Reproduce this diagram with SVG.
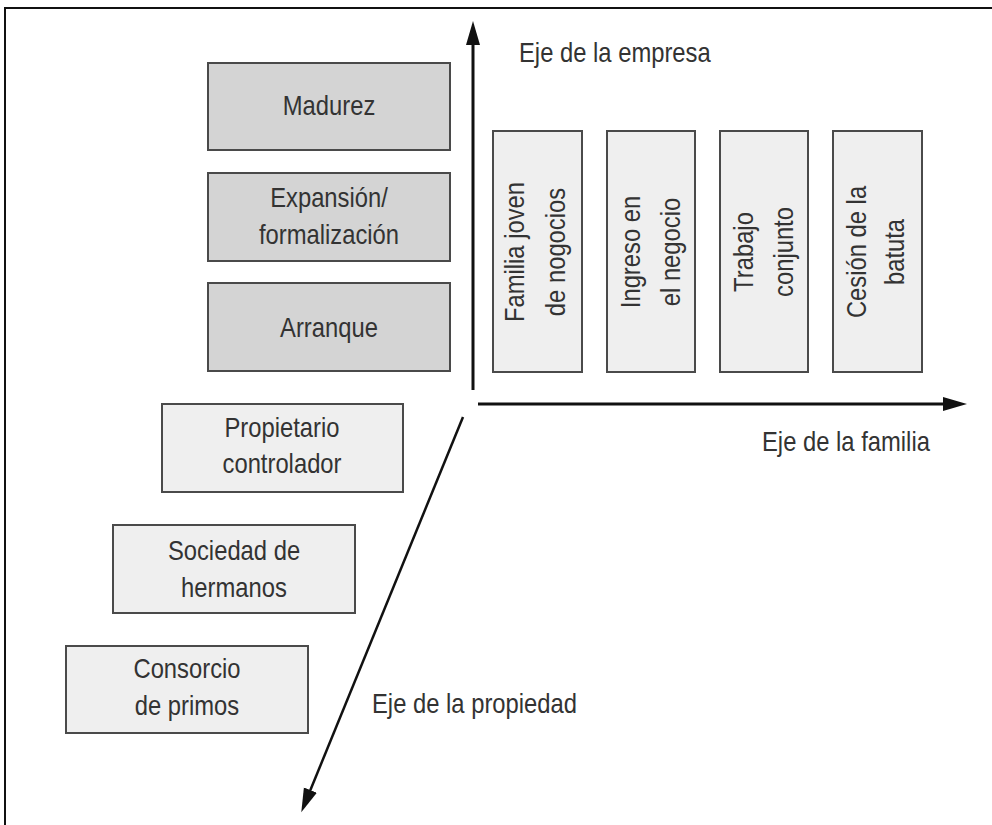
<svg xmlns="http://www.w3.org/2000/svg" width="992" height="825" viewBox="0 0 992 825">
<style>
.t{font-family:"Liberation Sans",Arial,sans-serif;font-size:28px;fill:#333;}
.c{text-anchor:middle;}
.dk{fill:#d4d4d4;stroke:#4a4a4a;stroke-width:2;}
.lt{fill:#efefef;stroke:#4a4a4a;stroke-width:2;}
.ax{stroke:#111;fill:none;}
</style>
<defs>
<marker id="ah" markerUnits="userSpaceOnUse" markerWidth="26" markerHeight="16" refX="1" refY="7" orient="auto" viewBox="0 0 26 16">
<path d="M0,0 L24,7 L0,14 Z" fill="#111"/>
</marker>
</defs>
<rect width="992" height="825" fill="#fff"/>
<path d="M5,825 L5,8 L992,8" fill="none" stroke="#111" stroke-width="2"/>

<g id="connectors">
<line class="ax" x1="473" y1="390" x2="473" y2="44" stroke-width="3" marker-end="url(#ah)"/>
<line class="ax" x1="478" y1="404" x2="944" y2="404" stroke-width="3" marker-end="url(#ah)"/>
<line class="ax" x1="463" y1="417" x2="310" y2="791" stroke-width="2.5" marker-end="url(#ah)"/>
</g>

<g id="labels">
<text class="t" transform="translate(519,62) scale(0.85,1)">Eje de la empresa</text>
<text class="t" transform="translate(762,451) scale(0.85,1)">Eje de la familia</text>
<text class="t" transform="translate(372,713) scale(0.85,1)">Eje de la propiedad</text>
</g>

<g id="madurez">
<rect class="dk" x="208" y="63" width="242" height="87"/>
<text class="t c" transform="translate(329,115) scale(0.85,1)">Madurez</text>
</g>
<g id="expansion">
<rect class="dk" x="208" y="173" width="242" height="88"/>
<text class="t c" transform="translate(329,207) scale(0.85,1)">Expansión/</text>
<text class="t c" transform="translate(329,244) scale(0.85,1)">formalización</text>
</g>
<g id="arranque">
<rect class="dk" x="208" y="283" width="242" height="88"/>
<text class="t c" transform="translate(329,337) scale(0.85,1)">Arranque</text>
</g>

<g id="propietario">
<rect class="lt" x="162" y="404" width="241" height="88"/>
<text class="t c" transform="translate(282,437) scale(0.85,1)">Propietario</text>
<text class="t c" transform="translate(282,473) scale(0.85,1)">controlador</text>
</g>
<g id="sociedad">
<rect class="lt" x="113" y="525" width="242" height="88"/>
<text class="t c" transform="translate(234,560) scale(0.85,1)">Sociedad de</text>
<text class="t c" transform="translate(234,597) scale(0.85,1)">hermanos</text>
</g>
<g id="consorcio">
<rect class="lt" x="66" y="646" width="242" height="87"/>
<text class="t c" transform="translate(187,678) scale(0.85,1)">Consorcio</text>
<text class="t c" transform="translate(187,715) scale(0.85,1)">de primos</text>
</g>

<g id="familia-joven">
<rect class="lt" x="493" y="131" width="89" height="241"/>
<text class="t c" transform="translate(524,252) rotate(-90) scale(0.85,1)">Familia joven</text>
<text class="t c" transform="translate(565,252) rotate(-90) scale(0.85,1)">de nogocios</text>
</g>
<g id="ingreso">
<rect class="lt" x="607" y="131" width="88" height="241"/>
<text class="t c" transform="translate(640,252) rotate(-90) scale(0.85,1)">Ingreso en</text>
<text class="t c" transform="translate(680,252) rotate(-90) scale(0.85,1)">el negocio</text>
</g>
<g id="trabajo">
<rect class="lt" x="720" y="131" width="88" height="241"/>
<text class="t c" transform="translate(753,252) rotate(-90) scale(0.85,1)">Trabajo</text>
<text class="t c" transform="translate(793,252) rotate(-90) scale(0.85,1)">conjunto</text>
</g>
<g id="cesion">
<rect class="lt" x="833" y="131" width="89" height="241"/>
<text class="t c" transform="translate(866,252) rotate(-90) scale(0.85,1)">Cesión de la</text>
<text class="t c" transform="translate(904,252) rotate(-90) scale(0.85,1)">batuta</text>
</g>
</svg>
